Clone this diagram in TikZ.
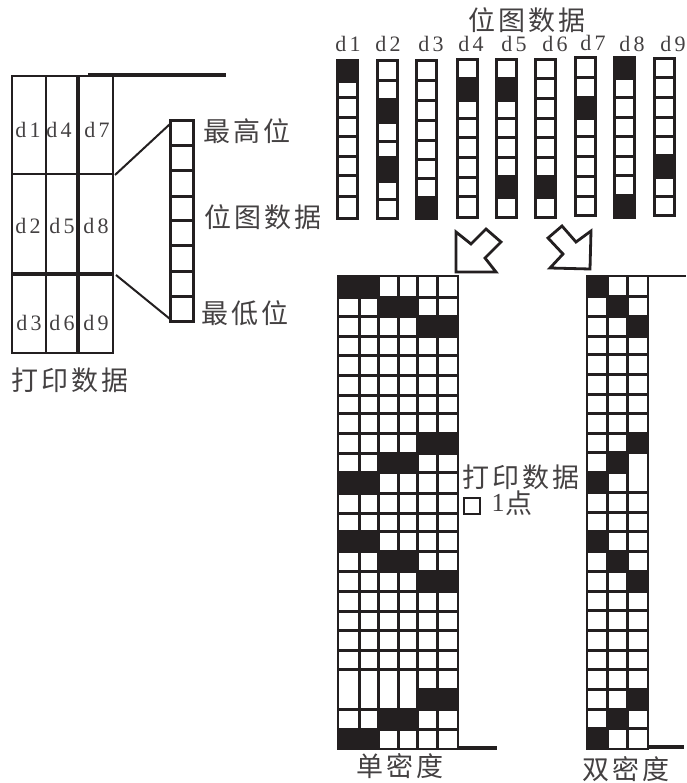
\documentclass[tikz,border=0pt]{standalone}
\usepackage{fontspec}
\setmainfont{Liberation Serif}
\newfontfamily\cjkf[LetterSpace=12]{Noto Sans CJK SC}
\newfontfamily\latf[LetterSpace=14]{Liberation Serif}
\definecolor{ink}{HTML}{231F20}
\tikzset{
  cjklabel/.style={font=\fontsize{27}{27}\selectfont\cjkf,text=ink!85,inner sep=0pt},
  dlabel/.style={font=\fontsize{22}{22}\selectfont\latf,text=ink!85,inner sep=0pt},
  thinline/.style={draw=ink,line width=2pt},
  gridline/.style={draw=ink,line width=3pt},
  heavyline/.style={draw=ink,line width=3.2pt},
  solid cell/.style={fill=ink,draw=none},
  bigarrow/.style={draw=ink,line width=2.8pt,line join=miter,fill=white},
  pointbox/.style={draw=ink,line width=2pt,minimum width=16pt,minimum height=16pt,inner sep=0pt},
}
% column of bits: x1, x2, y1, y2, divider ys, black y-pairs
\newcommand{\bitcolumn}[6]{%
  \foreach \yy in {#5} {\draw[gridline] (#1,\yy) -- (#2,\yy);}
  \foreach \ya/\yb in {#6} {\fill[solid cell] (#1-1,\ya) rectangle (#2+1,\yb);}
  \draw[gridline] (#1,#3) rectangle (#2,#4);
}
\begin{document}
\begin{tikzpicture}[x=1pt,y=-1pt]
\useasboundingbox (0,0) rectangle (686,783);
\fill[white] (0,0) rectangle (686,783);

% ---------- left print-data block
\draw[thinline] (12,76) rectangle (113,353);
\draw[thinline] (46,76) -- (46,353);
\draw[heavyline] (78,76) -- (78,353);
\draw[thinline] (12,174) -- (113,174);
\draw[heavyline] (12,274) -- (113,274);
\draw[heavyline] (88,75) -- (226,75);
\coordinate (gridA) at (115,175);
\coordinate (gridB) at (116,275);
\foreach \nm/\xx/\yy in {d1/28/130,d4/59/130,d7/97/130,d2/28/226,d5/62/226,d8/96/226,d3/29/323,d6/62/323,d9/96/323}
  {\node[dlabel] (L\nm) at (\xx,\yy) {\nm};}

% ---------- bit stack
\bitcolumn{170}{193}{121}{321}{146,171,197,221,246,271,296}{}
\coordinate (stackA) at (170,124);
\coordinate (stackB) at (170,319);
\draw[thinline] (gridA) -- (stackA);
\draw[thinline] (gridB) -- (stackB);
\node[cjklabel] (msb) at (247,131) {最高位};
\node[cjklabel] (bmp) at (263,217) {位图数据};
\node[cjklabel] (lsb) at (245,313) {最低位};
\node[cjklabel] (prn) at (70,380) {打印数据};

% ---------- top bitmap columns
\node[cjklabel] (title) at (527,20) {位图数据};
\foreach \nm/\xx/\yy in {d1/348/44,d2/388/44,d3/431/44,d4/471/44,d5/514/44,d6/555/44,d7/593/43,d8/632/44,d9/673/44}
  {\node[dlabel] (T\nm) at (\xx,\yy) {\nm};}
\bitcolumn{337}{357}{61}{219}{82,98,118,137,157,176,197}{61/82}
\bitcolumn{377}{397}{61}{219}{81,100,123,142,158,182,200}{100/123,158/182}
\bitcolumn{416}{436}{61}{219}{81,101,121,141,160,179,198}{198/219}
\bitcolumn{457}{477}{60}{218}{79,101,119,138,158,178,197}{79/101}
\bitcolumn{496}{516}{60}{218}{79,101,119,138,158,177,198}{79/101,177/198}
\bitcolumn{535}{555}{60}{218}{79,99,119,138,158,177,198}{177/198}
\bitcolumn{575}{595}{58}{216}{78,98,119,137,157,177,197}{98/119}
\bitcolumn{614}{634}{58}{218}{79,98,118,137,157,176,196}{58/79,196/218}
\bitcolumn{654}{674}{59}{216}{78,98,118,137,156,178,197}{156/178}

% ---------- block arrows
\draw[bigarrow] (456,232) -- (471,244) -- (486,229) -- (501,242) -- (485,258) -- (496,272) -- (456,272) -- cycle;
\draw[bigarrow] (548,238) -- (562,226) -- (576,242) -- (591,231) -- (590,269) -- (550,268) -- (563,254) -- cycle;

% ---------- single density grid
\foreach \yy in {297,316,336,355,375,395,413,433,453,472,493,513,531,551,571,591,611,630,650,669,709,729}
  {\draw[gridline] (338,\yy) -- (458,\yy);}
\draw[gridline] (417,689) -- (458,689);
\foreach \xx in {359,378,398,417,437} {\draw[gridline] (\xx,276) -- (\xx,749);}
\foreach \xa/\xb/\ya/\yb in {338/378/276/297,378/417/297/316,417/458/316/336,
    417/458/433/453,378/417/453/472,338/378/472/493,
    338/378/531/551,378/417/551/571,417/458/571/591,
    417/458/689/709,378/417/709/729,338/378/729/749}
  {\fill[solid cell] (\xa,\ya) rectangle (\xb,\yb);}
\draw[thinline] (338,276) rectangle (458,749);
\draw[heavyline] (458,748) -- (497,748);

% ---------- double density grid
\foreach \yy in {296,316,336,354,374,394,413,433,452,492,512,531,551,571,591,610,630,650,669,689,709,728}
  {\draw[gridline] (587,\yy) -- (647,\yy);}
\draw[gridline] (587,472) -- (627,472);
\foreach \xx in {607,627} {\draw[gridline] (\xx,276) -- (\xx,749);}
\foreach \xa/\xb/\ya/\yb in {587/607/276/296,607/627/296/316,627/648/316/336,
    627/648/433/452,607/627/452/472,587/607/472/492,
    587/607/531/551,607/627/551/571,627/648/571/591,
    627/648/689/709,607/627/709/728,587/607/728/749}
  {\fill[solid cell] (\xa,\ya) rectangle (\xb,\yb);}
\draw[thinline] (587,276) rectangle (648,749);
\draw[thinline] (648,276) -- (686,276);
\draw[heavyline] (648,747) -- (684,747);

% ---------- legends
\node[cjklabel] (legend) at (521,477) {打印数据};
\node[pointbox] (dotbox) at (472,506) {};
\node[font=\fontsize{26}{26}\selectfont,inner sep=0pt,text=ink!85] (one) at (498,503) {1};
\node[cjklabel,anchor=west] (dian) at (505,503) {点};
\node[cjklabel] (single) at (400,766) {单密度};
\node[cjklabel] (double) at (626,769) {双密度};
\end{tikzpicture}
\end{document}
